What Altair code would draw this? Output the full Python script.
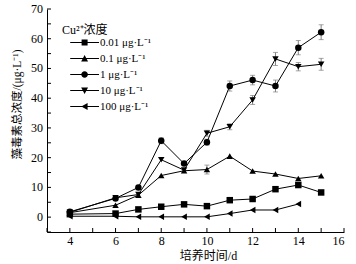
import altair as alt
import pandas as pd

days = [4, 6, 7, 8, 9, 10, 11, 12, 13, 14, 15]
days_100 = [4, 6, 7, 8, 9, 10, 11, 12, 13, 14]
series_names = ["0.01 μg·L⁻¹", "0.1 μg·L⁻¹", "1 μg·L⁻¹", "10 μg·L⁻¹", "100 μg·L⁻¹"]

c_001 = [1.0, 1.2, 2.6, 3.5, 4.3, 3.7, 5.7, 6.1, 9.4, 10.8, 8.3]
c_01 = [1.5, 4.0, 7.4, 14.0, 15.6, 16.0, 20.5, 15.5, 14.5, 13.0, 13.9]
c_1 = [1.8, 6.3, 10.0, 25.7, 18.0, 25.2, 44.1, 46.1, 44.1, 57.0, 62.2]
c_10 = [1.6, 6.5, 7.6, 19.3, 15.8, 28.2, 30.4, 39.4, 53.2, 50.6, 51.4]
c_100 = [0.3, 0.3, 0.1, 0.1, 0.1, 0.1, 1.2, 2.4, 2.4, 4.4]

e_001 = [0, 0, 0, 0, 0, 0, 0, 0, 0, 0, 0]
e_01 = [0, 0, 0, 0, 0, 1.5, 0, 0, 0, 0, 0]
e_1 = [0, 0, 0, 1.0, 0, 1.0, 1.7, 1.6, 2.0, 2.4, 2.5]
e_10 = [0, 0, 0, 0, 0, 1.0, 1.0, 1.5, 2.2, 1.4, 2.0]
e_100 = [0, 0, 0, 0, 0, 0, 0, 0, 0, 0]

y_tick_values = [-5, 0, 5, 10, 15, 20, 25, 30, 35, 40, 45, 50, 55, 60, 65, 70]
y_label_values = [0, 10, 20, 30, 40, 50, 60, 70]
x_tick_values = [3, 4, 5, 6, 7, 8, 9, 10, 11, 12, 13, 14, 15, 16]
x_label_values = [4, 6, 8, 10, 12, 14, 16]

marker_shapes = ["square", "triangle-up", "circle", "triangle-down", "triangle-left"]
LINE = "M0.9,-0.17H10.5V0.17H0.9Z"
legend_paths = [
    LINE + "M4.7,-1H6.7V1H4.7Z",
    LINE + "M4.55,1L5.7,-1.15L6.85,1Z",
    LINE + "M4.6,0A1.1,1.1 0 1,1 6.8,0A1.1,1.1 0 1,1 4.6,0Z",
    LINE + "M6.85,-1L5.7,1.15L4.55,-1Z",
    LINE + "M6.7,1.15L4.6,0L6.7,-1.15Z",
]

rows = []
for name, xs, ys, es in [
    (series_names[0], days, c_001, e_001),
    (series_names[1], days, c_01, e_01),
    (series_names[2], days, c_1, e_1),
    (series_names[3], days, c_10, e_10),
    (series_names[4], days_100, c_100, e_100),
]:
    for x, y, e in zip(xs, ys, es):
        rows.append({"series": name, "day": x, "value": y, "err": e})
df = pd.DataFrame(rows)

serif = "Liberation Serif, Noto Sans CJK SC"

x_enc = alt.X(
    "day:Q",
    scale=alt.Scale(domain=[3, 16], nice=False, zero=False),
    axis=alt.Axis(
        title="培养时间/d",
        values=x_label_values,
        labelOverlap=False,
        grid=False,
        ticks=False,
        labelPadding=3,
        titlePadding=4,
        titleX=161,
    ),
)
y_enc = alt.Y(
    "value:Q",
    scale=alt.Scale(domain=[-5, 70], nice=False, zero=False),
    axis=alt.Axis(
        title="藻毒素总浓度/(μg·L⁻¹)",
        values=y_label_values,
        labels=False,
        grid=False,
        ticks=False,
        titlePadding=25,
        titleY=95,
        titleFontSize=11.5,
    ),
)

base = alt.Chart(df)

# inward ticks along the axes, positioned by the shared scales
y_ticks = alt.Chart(pd.DataFrame({"value": y_tick_values})).mark_rule(
    color="black", strokeWidth=1
).encode(y=y_enc, x=alt.value(0), x2=alt.value(4))
x_ticks = alt.Chart(pd.DataFrame({"day": x_tick_values})).mark_rule(
    color="black", strokeWidth=1
).encode(x=x_enc, y=alt.value(223), y2=alt.value(219))
y_labels = alt.Chart(pd.DataFrame({"value": y_label_values})).mark_text(
    align="right", baseline="middle", font=serif, fontSize=12, color="black"
).encode(y=y_enc, x=alt.value(-4), text="value:Q")

err_data = base.transform_filter("datum.err > 0").transform_calculate(
    lo="datum.value - datum.err", hi="datum.value + datum.err"
)
err_rule = err_data.mark_rule(color="#808080", strokeWidth=1).encode(
    x=x_enc, y=alt.Y("lo:Q"), y2="hi:Q"
)
err_top = err_data.mark_tick(orient="horizontal", size=5, thickness=1, color="#808080").encode(
    x=x_enc, y=alt.Y("hi:Q")
)
err_bot = err_data.mark_tick(orient="horizontal", size=5, thickness=1, color="#808080").encode(
    x=x_enc, y=alt.Y("lo:Q")
)

lines = base.mark_line(color="black", strokeWidth=1).encode(
    x=x_enc, y=y_enc, detail="series:N", order="day:Q"
)

point_layers = []
for name, shp in zip(series_names, marker_shapes):
    point_layers.append(
        base.transform_filter(alt.datum.series == name)
        .mark_point(filled=True, color="black", size=42, opacity=1, shape=shp)
        .encode(x=x_enc, y=y_enc)
    )

legend_layer = (
    alt.Chart(df)
    .transform_filter("false")
    .mark_point(filled=True, color="black", size=36, opacity=1)
    .encode(
        shape=alt.Shape(
            "series:N",
            scale=alt.Scale(domain=series_names, range=legend_paths),
            legend=alt.Legend(
                title="Cu²⁺浓度",
                orient="none",
                legendX=15,
                legendY=16,
                titleFont=serif,
                titleFontSize=12,
                titleFontWeight="normal",
                titleColor="black",
                titlePadding=0,
                labelFont=serif,
                labelFontSize=11,
                labelColor="black",
                labelOffset=27,
                symbolSize=36,
                symbolStrokeWidth=0,
                symbolFillColor="black",
                rowPadding=4,
                padding=0,
            ),
        )
    )
)

chart = (
    alt.layer(
        x_ticks, y_ticks, y_labels, err_rule, err_top, err_bot, lines, *point_layers, legend_layer
    )
    .properties(
        width=297,
        height=223,
        autosize=alt.AutoSizeParams(type="none"),
        padding={"left": 47, "top": 9, "right": 12, "bottom": 32},
        background="white",
    )
    .configure_view(stroke=None)
    .configure_axis(
        domainColor="black",
        domainWidth=1,
        labelFont=serif,
        labelFontSize=12,
        labelColor="black",
        titleFont=serif,
        titleFontSize=12,
        titleFontWeight="normal",
        titleColor="black",
    )
)

chart.save("out.html", embed_options={"renderer": "svg", "actions": False})
